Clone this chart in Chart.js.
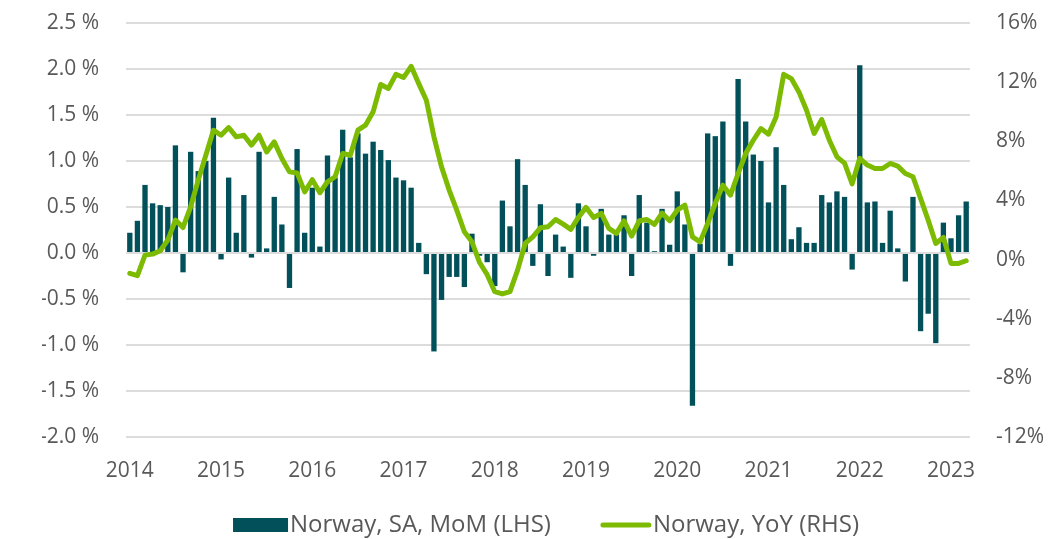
<!DOCTYPE html>
<html>
<head>
<meta charset="utf-8">
<script src="https://cdn.jsdelivr.net/npm/chart.js@4.4.1/dist/chart.umd.min.js"></script>
<style>
  html, body { margin: 0; padding: 0; background: #fff; }
  #wrap { width: 1050px; height: 539px; }
</style>
</head>
<body>
<div id="wrap"><canvas id="mainChart"></canvas></div>
<script>
// Dados mensais, jan/2014 - mar/2023
const years = ["2014", "2015", "2016", "2017", "2018", "2019", "2020", "2021", "2022", "2023"];

const momValues = [
  0.22, 0.35, 0.74, 0.54, 0.52, 0.50, 1.17, -0.21, 1.10, 0.89, 1.00, 1.47,
  -0.07, 0.82, 0.22, 0.63, -0.05, 1.10, 0.05, 0.61, 0.31, -0.38, 1.13, 0.22,
  0.71, 0.07, 1.06, 0.82, 1.34, 1.04, 1.30, 1.08, 1.21, 1.12, 1.01, 0.82,
  0.79, 0.71, 0.11, -0.23, -1.07, -0.51, -0.26, -0.26, -0.37, 0.21, -0.03, -0.10,
  -0.36, 0.57, 0.29, 1.02, 0.74, -0.14, 0.53, -0.25, 0.20, 0.07, -0.27, 0.54,
  0.29, -0.03, 0.48, 0.20, 0.20, 0.41, -0.25, 0.63, 0.33, 0.02, 0.48, 0.09,
  0.67, 0.31, -1.66, 0.10, 1.30, 1.27, 1.43, -0.14, 1.89, 1.43, 1.07, 1.00,
  0.55, 1.15, 0.74, 0.15, 0.28, 0.11, 0.11, 0.63, 0.55, 0.67, 0.61, -0.18,
  2.04, 0.55, 0.56, 0.11, 0.46, 0.05, -0.31, 0.61, -0.85, -0.66, -0.98, 0.33,
  0.16, 0.41, 0.56
];

const yoyValues = [
  -0.93, -1.09, 0.30, 0.37, 0.60, 1.32, 2.67, 2.17, 3.57, 5.37, 7.06, 8.75,
  8.41, 8.93, 8.30, 8.41, 7.74, 8.41, 7.28, 7.96, 6.84, 5.93, 5.86, 4.58,
  5.40, 4.52, 5.26, 5.60, 7.17, 7.06, 8.75, 9.09, 9.99, 11.84, 11.57, 12.53,
  12.31, 13.07, 11.90, 10.78, 8.30, 6.27, 4.70, 3.34, 1.88, 1.20, -0.20, -1.02,
  -2.17, -2.32, -2.17, -0.71, 1.09, 1.54, 2.15, 2.22, 2.71, 2.40, 2.04, 2.85,
  3.53, 2.85, 3.12, 2.11, 1.77, 2.62, 1.59, 2.62, 2.71, 2.38, 3.14, 2.63,
  3.34, 3.68, 1.54, 1.20, 2.45, 3.80, 5.03, 4.36, 5.82, 7.17, 8.07, 8.86,
  8.48, 9.65, 12.53, 12.24, 11.34, 10.10, 8.53, 9.47, 8.07, 6.95, 6.52, 5.12,
  6.85, 6.39, 6.16, 6.16, 6.50, 6.32, 5.82, 5.60, 4.14, 2.67, 1.09, 1.50,
  -0.26, -0.26, -0.08
];

const seriesNames = ["Norway, SA, MoM (LHS)", "Norway, YoY (RHS)"];

// rótulos mensais "AAAA-MM"
const monthLabels = [];
years.forEach((y) => {
  for (let m = 1; m <= 12; m++) monthLabels.push(`${y}-${String(m).padStart(2, "0")}`);
});
monthLabels.length = momValues.length;

const BAR_COLOR = "#02505a";
const LINE_COLOR = "#7dbb02";
const TEXT_COLOR = "#595959";
const FONT_FAMILY = "'Open Sans', sans-serif";

Chart.defaults.font.family = FONT_FAMILY;
Chart.defaults.font.size = 21;
Chart.defaults.color = TEXT_COLOR;

// eixo vertical com largura fixa e sem folga extra no topo/base
function fixVertical(width) {
  return (scale) => {
    scale.width = width;
    scale.paddingTop = 0;
    scale.paddingBottom = 0;
  };
}

// legenda desenhada à mão: símbolo colado ao texto, como no original
const bottomLegend = {
  id: "bottomLegend",
  afterDraw(chart) {
    const c = chart.ctx;
    const area = chart.chartArea;
    c.save();
    c.font = `24px ${FONT_FAMILY}`;
    c.textBaseline = "middle";
    c.fillStyle = TEXT_COLOR;
    const items = chart.data.datasets.map((ds) => ({
      label: ds.label,
      isBar: ds.type === "bar",
      color: ds.type === "bar" ? ds.backgroundColor : ds.borderColor,
      symW: ds.type === "bar" ? 55 : 50,
      textW: c.measureText(ds.label).width,
    }));
    const gapSym = 2, gapItem = 50;
    const total = items.reduce((s, it) => s + it.symW + gapSym + it.textW, 0) + gapItem * (items.length - 1);
    let x = (area.left + area.right) / 2 - 2 - total / 2;
    const y = 525;
    items.forEach((it) => {
      if (it.isBar) {
        c.fillStyle = it.color;
        c.fillRect(x, y - 7, it.symW, 14);
      } else {
        c.strokeStyle = it.color;
        c.lineWidth = 5;
        c.lineCap = "round";
        c.beginPath();
        c.moveTo(x + 2, y);
        c.lineTo(x + it.symW - 2, y);
        c.stroke();
      }
      x += it.symW + gapSym;
      c.fillStyle = TEXT_COLOR;
      c.fillText(it.label, x, y);
      x += it.textW + gapItem;
    });
    c.restore();
  },
};

const ctx = document.getElementById("mainChart").getContext("2d");

new Chart(ctx, {
  data: {
    labels: monthLabels,
    datasets: [
      {
        type: "bar",
        label: seriesNames[0],
        data: momValues,
        backgroundColor: BAR_COLOR,
        borderColor: BAR_COLOR,
        yAxisID: "y",
        order: 1,
        categoryPercentage: 0.7,
        barPercentage: 1.0,
      },
      {
        type: "line",
        label: seriesNames[1],
        data: yoyValues,
        borderColor: LINE_COLOR,
        backgroundColor: LINE_COLOR,
        borderWidth: 5,
        pointRadius: 0,
        tension: 0,
        borderCapStyle: "round",
        borderJoinStyle: "round",
        yAxisID: "y2",
        order: 0,
      },
    ],
  },
  plugins: [bottomLegend],
  options: {
    responsive: true,
    maintainAspectRatio: false,
    animation: false,
    layout: { padding: { top: 23, left: 42, right: 0, bottom: 34 } },
    plugins: {
      tooltip: { enabled: false },
      legend: { display: false },
    },
    scales: {
      x: {
        type: "category",
        offset: true,
        grid: { display: false, drawTicks: false, tickLength: 0 },
        border: { display: false },
        ticks: {
          autoSkip: false,
          maxRotation: 0,
          padding: 21,
          callback: function (value) {
            const lbl = this.getLabelForValue(value);
            return lbl.endsWith("-01") ? lbl.slice(0, 4) : null;
          },
        },
        afterFit: (scale) => { scale.height = 68; },
      },
      y: {
        position: "left",
        min: -2,
        max: 2.5,
        grid: { color: "#dcdcdc", lineWidth: 2, drawTicks: false, tickLength: 0 },
        border: { display: false },
        ticks: {
          stepSize: 0.5,
          padding: 27,
          callback: (v) => v.toFixed(1) + " %",
        },
        afterFit: fixVertical(84),
      },
      y2: {
        position: "right",
        min: -12,
        max: 16,
        grid: { display: false, drawTicks: false, tickLength: 0 },
        border: { display: false },
        ticks: {
          stepSize: 4,
          padding: 26,
          callback: (v) => v + "%",
        },
        afterFit: fixVertical(80),
      },
    },
  },
});
</script>
</body>
</html>
